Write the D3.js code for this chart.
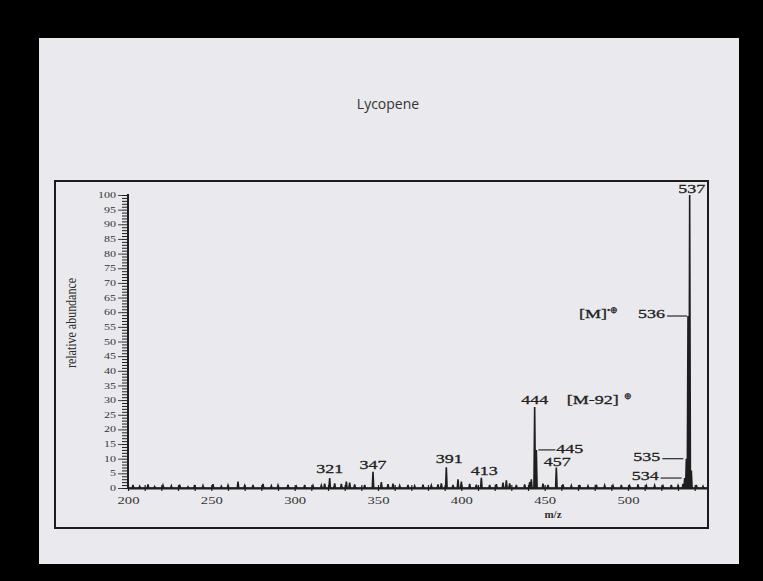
<!DOCTYPE html>
<html><head><meta charset="utf-8">
<script src="https://cdn.jsdelivr.net/npm/d3@7"></script>
<style>html,body{margin:0;padding:0;background:#000;}</style>
</head><body>
<svg id="c" width="763" height="581"></svg>
<script>
// ---- data ----
const titleText = "Lycopene";
const xLabel = "m/z";
const yLabel = "relative abundance";
const xTicksLabeled = [200, 250, 300, 350, 400, 450, 500];
const yTicksLabeled = [0,5,10,15,20,25,30,35,40,45,50,55,60,65,70,75,80,85,90,95,100];
// main peaks (m/z, relative abundance)
const peakMz    = [321, 347, 391, 412, 444, 445, 457, 534, 535, 536, 537, 538];
const peakAbund = [3.4, 5.5, 7.1, 3.5, 27.6, 13, 7, 3.4, 10, 58.7, 100, 6];
// baseline noise (m/z, relative abundance)
const noiseMz    = [203,207,212,216,221,226,231,236,240,245,251,256,260,266,270,275,281,286,290,296,301,306,311,316,318,324,328,331,333,336,342,352,356,359,363,368,372,377,382,386,388,395,398,400,405,409,417,421,425,427,429,433,438,441,442,449,452,461,466,471,476,481,486,491,496,501,506,511,516,521,526,530,533,541,545];
const noiseAbund = [1.0,0.6,1.2,0.5,0.9,0.7,1.1,0.4,1.0,0.8,1.3,0.6,0.9,2.2,0.8,1.0,1.4,0.7,0.9,1.1,0.6,1.0,0.8,0.9,1.5,1.6,1.4,2.2,1.8,1.2,1.0,2.0,1.3,1.5,0.8,1.0,0.7,1.1,0.9,1.2,1.6,1.0,3.0,2.2,1.4,1.1,1.0,1.3,1.8,2.6,1.6,1.0,1.2,2.0,3.0,1.5,1.0,1.2,0.8,1.0,0.7,1.1,0.9,0.8,1.0,0.7,1.2,0.8,0.9,0.7,1.0,0.8,1.4,1.0,0.6];
// annotations
const labelText = ["321","347","391","413","444","445","457","534","535","536","537"];
const labelMz   = [321, 347, 391, 412, 444, 445, 457, 534, 535, 536, 537];
const ionText = ["[M-92]", "[M]"];

// ---- layout ----
const svg = d3.select("#c");
const W = 763, H = 581;
svg.append("rect").attr("width", W).attr("height", H).attr("fill", "#000");
svg.append("rect").attr("x", 39).attr("y", 38).attr("width", 700).attr("height", 526).attr("fill", "#eaeaee");
svg.append("rect").attr("x", 55).attr("y", 181).attr("width", 653).attr("height", 347)
  .attr("fill", "none").attr("stroke", "#1c1c1c").attr("stroke-width", 2);

svg.append("text").attr("x", 388).attr("y", 109).attr("text-anchor", "middle")
  .attr("font-family", "Open Sans").attr("font-size", 14).attr("fill", "#333").text(titleText);

const x = d3.scaleLinear().domain([200, 548]).range([128, 708]);
const y = d3.scaleLinear().domain([0, 100]).range([488, 195]);
const serif = "Liberation Serif";
const ink = "#1e1e1e";

// y axis: minor comb
const gMinor = svg.append("g").attr("transform", "translate(122,0)")
  .call(d3.axisRight(y).tickValues(d3.range(0, 101, 1)).tickSize(6).tickFormat(""));
gMinor.select(".domain").remove();
gMinor.selectAll("line").attr("stroke", ink).attr("stroke-width", 1);
// y axis: major ticks + labels
const gMajor = svg.append("g").attr("transform", "translate(122,0)")
  .call(d3.axisLeft(y).tickValues(yTicksLabeled).tickSize(4).tickPadding(2));
gMajor.select(".domain").remove();
gMajor.selectAll("line").attr("stroke", "#444");
gMajor.selectAll("text").attr("font-family", serif).attr("font-size", 8).attr("fill", "#333")
  .attr("textLength", d => d >= 100 ? 18 : (d >= 10 ? 12 : 6)).attr("lengthAdjust", "spacingAndGlyphs");
svg.append("line").attr("x1", 128).attr("x2", 128).attr("y1", y(0)).attr("y2", y(100) - 1)
  .attr("stroke", ink).attr("stroke-width", 2);

// x axis
const gx = svg.append("g").attr("transform", "translate(0,488)")
  .call(d3.axisBottom(x).tickValues(d3.range(200, 541, 10)).tickSizeInner(3).tickSizeOuter(0).tickPadding(6)
    .tickFormat(d => xTicksLabeled.includes(d) ? d : ""));
gx.select(".domain").attr("stroke", ink).attr("stroke-width", 2);
gx.selectAll("line").attr("stroke", ink).attr("y1", -3).attr("stroke-width", 1.2);
gx.selectAll("text").attr("font-family", serif).attr("font-size", 10).attr("fill", "#333")
  .attr("textLength", d => xTicksLabeled.includes(d) ? 22 : 0).attr("lengthAdjust", "spacingAndGlyphs");

svg.append("text").attr("x", 553).attr("y", 518).attr("text-anchor", "middle")
  .attr("font-family", serif).attr("font-size", 11).attr("font-weight", "bold").attr("fill", "#333").text(xLabel);
svg.append("text").attr("transform", "translate(76,323) rotate(-90)").attr("text-anchor", "middle")
  .attr("font-family", serif).attr("font-size", 14).attr("fill", "#2a2a2a")
  .attr("textLength", 90).attr("lengthAdjust", "spacingAndGlyphs").text(yLabel);

// spectrum as profile line
const pts = [];
const all = noiseMz.map((m, i) => [m, noiseAbund[i]]).concat(peakMz.map((m, i) => [m, peakAbund[i]]))
  .sort((a, b) => a[0] - b[0]);
pts.push([200, 0]);
all.forEach(([m, a]) => { pts.push([m - 0.45, 0]); pts.push([m, a]); pts.push([m + 0.45, 0]); });
pts.push([548, 0]);
const line = d3.line().x(d => x(d[0])).y(d => y(d[1]));
svg.append("path").attr("d", line(pts)).attr("fill", "none").attr("stroke", ink).attr("stroke-width", 1.6);

// annotations
const lab = svg.append("g").attr("font-family", serif).attr("fill", "#222").attr("font-size", 13)
  .attr("stroke", "#222").attr("stroke-width", 0.3);
const abund = m => peakAbund[peakMz.indexOf(m)];
// offsets (style): dx, dy relative to peak top, anchor, leader
const labelStyle = {
  "321": {dx: 0, dy: -5, a: "middle"},
  "347": {dx: 0, dy: -3, a: "middle"},
  "391": {dx: 3, dy: -4, a: "middle"},
  "413": {dx: 3, dy: -3, a: "middle"},
  "444": {dx: 0, dy: -3, a: "middle"},
  "445": {dx: 20, dy: 3, a: "start", lead: [2, 19]},
  "457": {dx: 1, dy: -1, a: "middle"},
  "534": {dx: -26, dy: 2, a: "end", lead: [-24, -3]},
  "535": {dx: -26, dy: 2, a: "end", lead: [-24, -3]},
  "536": {dx: -23, dy: 2, a: "end", lead: [-21, -1]},
  "537": {dx: 2, dy: -2, a: "middle"}
};
labelText.forEach((t, i) => {
  const m = labelMz[i], s = labelStyle[t];
  const px = x(m), py = y(abund(m));
  lab.append("text").attr("x", px + s.dx).attr("y", py + s.dy).attr("text-anchor", s.a)
    .attr("textLength", 27).attr("lengthAdjust", "spacingAndGlyphs").text(t);
  if (s.lead) {
    lab.append("line").attr("x1", px + s.lead[0]).attr("x2", px + s.lead[1])
      .attr("y1", py).attr("y2", py).attr("stroke", "#2a2a2a").attr("stroke-width", 1.2);
  }
});
// ion labels
const ion1 = lab.append("text").attr("x", x(444) + 32).attr("y", y(abund(444)) - 3);
ion1.append("tspan").attr("textLength", 52).attr("lengthAdjust", "spacingAndGlyphs").text(ionText[0]);
ion1.append("tspan").attr("dx", 5).attr("dy", -5).attr("font-size", 9).text("\u2295");
const ion2 = lab.append("text").attr("x", x(536) - 109).attr("y", y(abund(536)) + 2);
ion2.append("tspan").attr("textLength", 28).attr("lengthAdjust", "spacingAndGlyphs").text(ionText[1]);
ion2.append("tspan").attr("dy", -5).attr("font-size", 9).text("\u2022\u2295");
</script>
</body></html>
